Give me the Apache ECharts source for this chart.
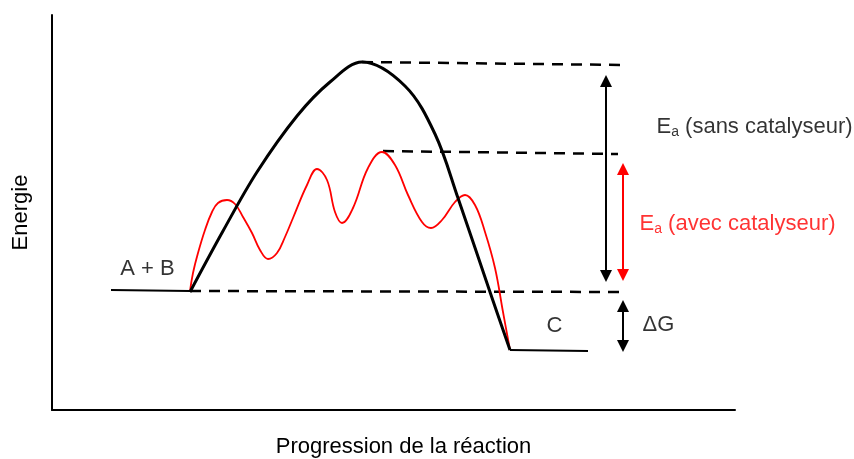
<!DOCTYPE html>
<html><head><meta charset="utf-8">
<script src="https://cdn.jsdelivr.net/npm/echarts@6/dist/echarts.min.js"></script>
<style>html,body{margin:0;padding:0;background:#fff}#c{width:854px;height:459px}</style>
</head><body><div id="c"></div>
<script>
// Abstract units: progress (x) and energy (y)
const progressRange = [0, 683];
const energyRange = [0, 395];

const reactantLevel = [[59,120],[138,119]];
const productLevel = [[458,60],[536,59]];

const uncatalysed = [[138,118],[171,179],[205,238],[245,294],[278,328],[310,348],[353,324],[383,276],[406,212],[438,118],[458,60]];
const catalysed = [[138,119],[141,137],[146,157],[153,180],[160,198],[166,207],[175,210],[183,206],[191,193],[200,177],[208,160],[216,151],[225,157],[233,173],[241,192],[255,225],[265,241],[275,230],[283,198],[290,187],[301,202],[316,242],[330,258],[343,245],[356,215],[370,188],[379,182],[390,190],[403,208],[413,215],[423,205],[433,178],[443,142],[451,98],[458,60]];

const levelTop = [[310,348],[573,345]];
const levelMid = [[331,259],[566,256]];
const levelBase = [[138,119],[573,118]];

const arrowUncat = [[554,329],[554,134]];
const arrowCat = [[571,241],[571,135]];
const arrowDeltaG = [[571,104],[571,64]];

const textLabels = [
  {name: 'A + B', value: [96,141], align: 'center', color: '#000'},
  {name: 'C', value: [503,84], align: 'center', color: '#000'},
  {name: 'ΔG', value: [591,85], align: 'left', color: '#000'},
  {name: '{m|E}{s|a}{m| (sans catalyseur)}', value: [605,283], align: 'left', color: '#000'},
  {name: '{m|E}{s|a}{m| (avec catalyseur)}', value: [588,186], align: 'left', color: '#ff0000'}
];
const xName = 'Progression de la réaction';
const yName = 'Energie';

const FONT = "'Liberation Sans', Arial, sans-serif";
const FS = 22;
const chart = echarts.init(document.getElementById('c'));

function dashed(data) {
  return {type: 'line', data: data, symbol: 'none', silent: true, z: 1,
    lineStyle: {color: '#000', width: 2.5, type: [11, 8]}};
}
function arrow(coords, color) {
  return {type: 'lines', coordinateSystem: 'cartesian2d', silent: true, z: 4,
    symbol: ['triangle', 'triangle'], symbolSize: [12, 12],
    lineStyle: {color: color, width: 2, opacity: 1},
    data: [{coords: coords}]};
}

chart.setOption({
  animation: false,
  grid: {left: 52, right: 119, top: 15, bottom: 49, outerBoundsMode: 'none', containLabel: false},
  xAxis: {type: 'value', min: progressRange[0], max: progressRange[1],
    axisLine: {show: true, onZero: false, lineStyle: {color: '#000', width: 2}},
    axisTick: {show: false}, axisLabel: {show: false}, splitLine: {show: false},
    name: xName, nameLocation: 'middle', nameGap: 26,
    nameTextStyle: {fontSize: FS, color: '#000', fontFamily: FONT, padding: [0,0,0,20]}},
  yAxis: {type: 'value', min: energyRange[0], max: energyRange[1],
    axisLine: {show: true, onZero: false, lineStyle: {color: '#000', width: 2}},
    axisTick: {show: false}, axisLabel: {show: false}, splitLine: {show: false},
    name: yName, nameLocation: 'middle', nameGap: 20, nameRotate: 90,
    nameTextStyle: {fontSize: FS, color: '#000', fontFamily: FONT}},
  series: [
    dashed(levelTop), dashed(levelMid), dashed(levelBase),
    {type: 'line', data: reactantLevel, symbol: 'none', silent: true, z: 3,
      lineStyle: {color: '#000', width: 2}},
    {type: 'line', data: productLevel, symbol: 'none', silent: true, z: 3,
      lineStyle: {color: '#000', width: 2}},
    {type: 'line', data: catalysed, symbol: 'none', smooth: 0.4, silent: true, z: 2,
      lineStyle: {color: '#ff0000', width: 1.8}},
    {type: 'line', data: uncatalysed, symbol: 'none', smooth: 0.35, silent: true, z: 3,
      lineStyle: {color: '#000', width: 3}},
    arrow(arrowUncat, '#000'), arrow(arrowCat, '#ff0000'), arrow(arrowDeltaG, '#000'),
    {type: 'scatter', symbolSize: 1, itemStyle: {color: 'rgba(0,0,0,0)'}, silent: true, z: 5,
      data: textLabels.map(t => ({
        name: t.name, value: t.value,
        label: {show: true, position: [0, 0], align: t.align, verticalAlign: 'middle',
          formatter: '{b}', color: t.color, fontSize: FS, fontFamily: FONT,
          rich: {
            m: {fontSize: FS, color: t.color, fontFamily: FONT, lineHeight: 25, verticalAlign: 'middle'},
            s: {fontSize: 14, color: t.color, fontFamily: FONT, lineHeight: 14, verticalAlign: 'bottom'}
          }}
      }))}
  ]
});
</script></body></html>
